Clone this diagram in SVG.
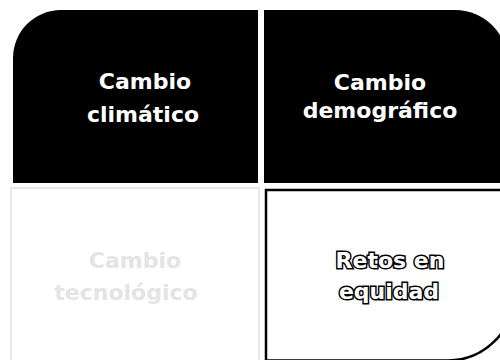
<svg xmlns="http://www.w3.org/2000/svg" width="500" height="360" viewBox="0 0 500 360">
<style>
.lbl{font-family:"DejaVu Sans",sans-serif;font-weight:bold;font-size:22px;text-anchor:middle}
.dark{fill:#ffffff}
.faint{fill:#e4e4e4}
.outl{fill:#ffffff;stroke:#000000;stroke-width:3px;paint-order:stroke}
</style>
<rect width="500" height="360" fill="#ffffff"/>
<g id="climatico">
<path d="M13,58 A48,48 0 0 1 61,10 H258 V183 H13 Z" fill="#000000"/>
<text class="lbl dark" x="145" y="89">Cambio</text>
<text class="lbl dark" x="143" y="122">climático</text>
</g>
<g id="demografico">
<path d="M264,10 H455 A53,53 0 0 1 508,63 V183 H264 Z" fill="#000000"/>
<text class="lbl dark" x="380" y="90">Cambio</text>
<text class="lbl dark" x="380" y="118">demográfico</text>
</g>
<g id="tecnologico">
<rect x="11" y="188" width="248" height="180" fill="#ffffff" stroke="#e2e2e2" stroke-width="1.5"/>
<text class="lbl faint" x="135" y="268">Cambio</text>
<text class="lbl faint" x="126" y="300">tecnológico</text>
</g>
<g id="equidad">
<path d="M266,190 H514 V294 A66,66 0 0 1 448,360.5 H266 Z" fill="#ffffff" stroke="#000000" stroke-width="2.5"/>
<text class="lbl outl" x="390" y="268">Retos en</text>
<text class="lbl outl" x="389" y="299">equidad</text>
</g>
<g id="connectors"></g>
</svg>
